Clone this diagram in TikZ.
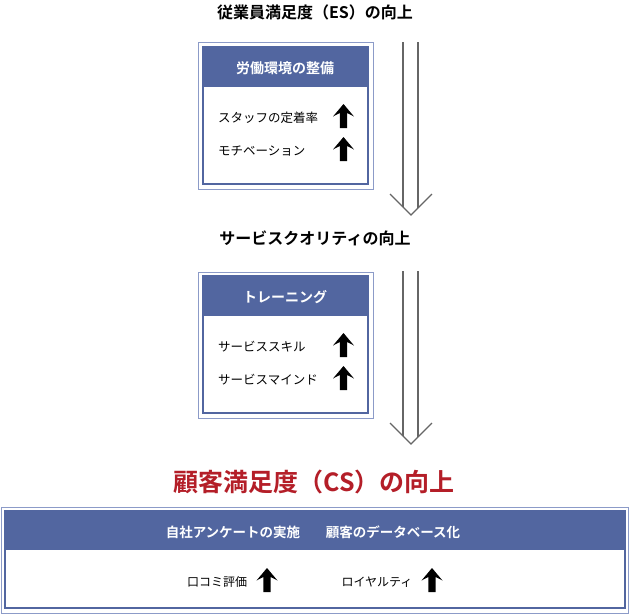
\documentclass[tikz,border=0pt]{standalone}
\usepackage{fontspec}
\newfontfamily\jp{Noto Sans CJK JP}[BoldFont={Noto Sans CJK JP Bold}]
\definecolor{hdr}{RGB}{82,102,160}
\definecolor{frm}{RGB}{140,155,200}
\definecolor{redt}{RGB}{180,30,40}
\begin{document}
\begin{tikzpicture}[x=1pt,y=-1pt,
  title/.style={font=\jp\bfseries\fontsize{16}{18}\selectfont, inner sep=0pt},
  redtitle/.style={font=\jp\bfseries\fontsize{25}{28}\selectfont, text=redt, inner sep=0pt},
  hdrtext/.style={font=\jp\bfseries\fontsize{14}{16}\selectfont, text=white, inner sep=0pt},
  hdrtextb/.style={font=\jp\bfseries\fontsize{13.5}{16}\selectfont, text=white, inner sep=0pt},
  item/.style={font=\jp\fontsize{12.5}{14}\selectfont, inner sep=0pt, anchor=west},
  itemb/.style={font=\jp\fontsize{12}{14}\selectfont, inner sep=0pt},
  outerframe/.style={draw=frm, line width=1pt},
  innerframe/.style={draw=hdr, line width=1.4pt},
  hdrfill/.style={fill=hdr},
  bigarrow/.style={draw=gray!80!black, line width=1.1pt},
  uparr/.pic={\fill[black] (0,-12) -- (10.5,0.5) -- (3.6,-3) -- (3.6,12) -- (-3.6,12) -- (-3.6,-3) -- (-10.5,0.5) -- cycle;}
]
\useasboundingbox (0,0) rectangle (630,614);
\fill[white] (0,0) rectangle (630,614);

% ---- Titles ----
\node[title] (t1) at (315,12) {従業員満足度（ES）の向上};
\node[title] (t2) at (315,238) {サービスクオリティの向上};
\node[redtitle] (t3) at (314,482) {顧客満足度（CS）の向上};

% ---- Box 1 ----
\draw[outerframe] (198,42) rectangle (373,189);
\fill[hdrfill] (203,47) rectangle (368,87);
\draw[innerframe] (203,47) rectangle (368,184);
\node[hdrtext] (h1) at (285,68) {労働環境の整備};
\node[item] (i11) at (218,118) {スタッフの定着率};
\node[item] (i12) at (218,151) {モチベーション};
\pic at (343.5,116) {uparr};
\pic at (343.5,149) {uparr};

% ---- Box 2 ----
\draw[outerframe] (198,272) rectangle (373,418);
\fill[hdrfill] (203,276) rectangle (368,316);
\draw[innerframe] (203,276) rectangle (368,413);
\node[hdrtext] (h2) at (285,297) {トレーニング};
\node[item] (i21) at (218,347) {サービススキル};
\node[item] (i22) at (218,380) {サービスマインド};
\pic at (343.5,345) {uparr};
\pic at (343.5,378) {uparr};

% ---- Box 3 ----
\draw[outerframe] (1,507) rectangle (628,613);
\fill[hdrfill] (5,511) rectangle (625,550);
\draw[innerframe] (5,511) rectangle (625,608);
\node[hdrtextb] (h31) at (233,532) {自社アンケートの実施};
\node[hdrtextb] (h32) at (393,532) {顧客のデータベース化};
\node[itemb] (i31) at (217,582) {口コミ評価};
\node[itemb] (i32) at (377,582) {ロイヤルティ};
\pic at (267,580) {uparr};
\pic at (432,580) {uparr};

% ---- Big down arrows ----
\coordinate (a1l) at (403,42);
\coordinate (a1r) at (418,42);
\coordinate (a1tl) at (390,194);
\coordinate (a1tr) at (432,194);
\coordinate (a1apex) at (411,215);
\draw[bigarrow] (a1l) -- (403,207);
\draw[bigarrow] (a1r) -- (418,208);
\draw[bigarrow] (a1tl) -- (a1apex) -- (a1tr);

\coordinate (a2l) at (403,271);
\coordinate (a2r) at (418,271);
\coordinate (a2tl) at (390,423);
\coordinate (a2tr) at (432,423);
\coordinate (a2apex) at (411,444);
\draw[bigarrow] (a2l) -- (403,436);
\draw[bigarrow] (a2r) -- (418,437);
\draw[bigarrow] (a2tl) -- (a2apex) -- (a2tr);
\end{tikzpicture}
\end{document}
